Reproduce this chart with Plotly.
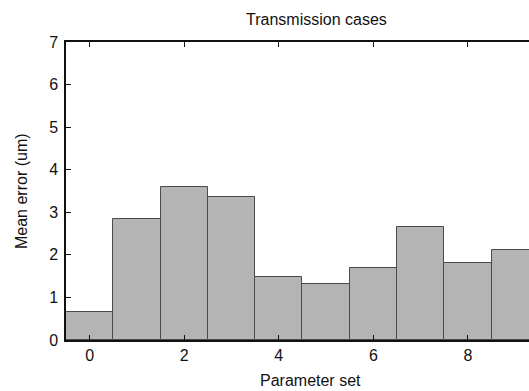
import plotly.graph_objects as go

param_sets = [0, 1, 2, 3, 4, 5, 6, 7, 8, 9]
mean_error = [0.66, 2.84, 3.60, 3.37, 1.47, 1.31, 1.68, 2.65, 1.82, 2.11]
x_ticks = [0, 2, 4, 6, 8]
y_ticks = [0, 1, 2, 3, 4, 5, 6, 7]

FONT = "Liberation Sans, Arial, Helvetica, sans-serif"

fig = go.Figure()
fig.add_trace(go.Bar(
    x=param_sets, y=mean_error, width=1.0,
    marker=dict(color="#b4b4b4", line=dict(color="#4a4a4a", width=1)),
    showlegend=False,
))

fig.update_layout(
    width=529, height=391,
    margin=dict(l=66, r=0, t=42, b=51),
    paper_bgcolor="white", plot_bgcolor="white",
    font=dict(family=FONT, color="#111111"),
    bargap=0,
    xaxis=dict(
        range=[-0.5, 9.29], tickvals=x_ticks, ticktext=[str(v) for v in x_ticks],
        showline=True, linecolor="#111111", linewidth=1.5, mirror="ticks",
        ticks="inside", ticklen=5, tickcolor="#111111", tickwidth=1.2,
        showgrid=False, zeroline=False, tickfont=dict(size=16, family=FONT),
    ),
    yaxis=dict(
        range=[0, 7], tickvals=y_ticks, ticktext=[str(v) for v in y_ticks],
        showline=True, linecolor="#111111", linewidth=1.5, mirror=False,
        ticks="inside", ticklen=5, tickcolor="#111111", tickwidth=1.2,
        showgrid=False, zeroline=False, tickfont=dict(size=16, family=FONT),
        ticklabelstandoff=3,
    ),
    annotations=[
        dict(text="Transmission cases", xref="paper", yref="paper",
             x=0.54, y=1.0, yshift=23, showarrow=False,
             font=dict(size=16, family=FONT), xanchor="center", yanchor="middle"),
        dict(text="Parameter set", xref="paper", yref="paper",
             x=0.529, y=0.0, yshift=-40, showarrow=False,
             font=dict(size=16, family=FONT), xanchor="center", yanchor="middle"),
        dict(text="Mean error (um)", xref="paper", yref="paper",
             x=0.0, xshift=-45, y=0.5, textangle=-90, showarrow=False,
             font=dict(size=16, family=FONT), xanchor="center", yanchor="middle"),
    ],
)

fig.write_html("out.html")
